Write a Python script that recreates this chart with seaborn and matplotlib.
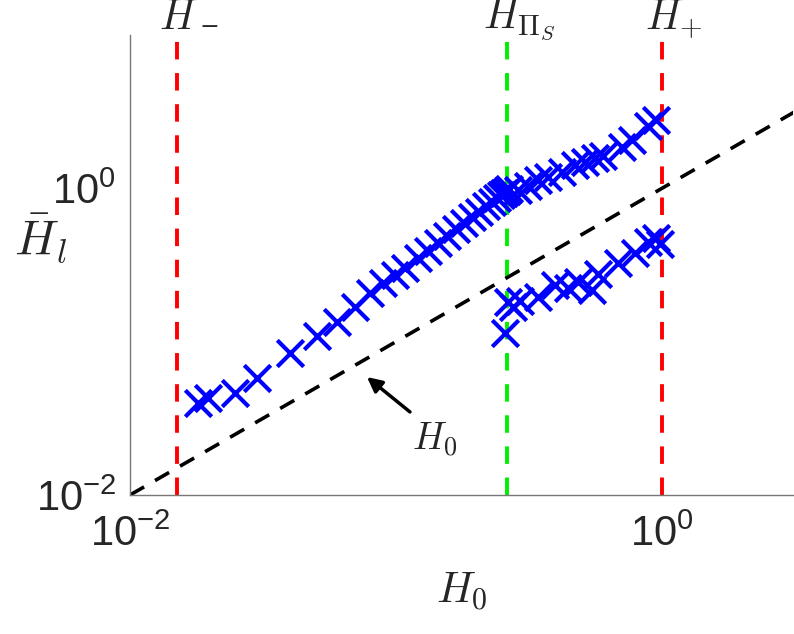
import numpy as np
import pandas as pd
import matplotlib
matplotlib.use("Agg")
import matplotlib.pyplot as plt
import matplotlib.transforms as mtransforms
import seaborn as sns

# ---- data (log-log) ----
upper_x = [0.0180, 0.0196, 0.0248, 0.0300, 0.0399, 0.0505, 0.0600, 0.0702, 0.0798,
           0.0893, 0.0990, 0.108, 0.121, 0.1319, 0.1438, 0.1555, 0.1681, 0.1802,
           0.1931, 0.2051, 0.2180, 0.2296, 0.2398, 0.2482, 0.2547, 0.2614, 0.2660,
           0.2875, 0.3134, 0.3418, 0.3727, 0.4208, 0.4708, 0.5134, 0.5598, 0.6001,
           0.7075, 0.7713, 0.8859, 0.9493]
upper_y = [0.0397, 0.0429, 0.0462, 0.0578, 0.0841, 0.1086, 0.134, 0.168, 0.207,
           0.240, 0.271, 0.301, 0.350, 0.3922, 0.4395, 0.4868, 0.5406, 0.5916,
           0.6474, 0.7022, 0.7634, 0.8130, 0.8607, 0.9004, 0.9333, 0.9647, 0.9851,
           0.9705, 1.030, 1.127, 1.179, 1.271, 1.412, 1.477, 1.568, 1.616,
           1.850, 2.054, 2.534, 2.773]
lower_x = [0.2570, 0.2638, 0.2754, 0.2925, 0.3418, 0.3960, 0.4432, 0.4832, 0.5455,
           0.5746, 0.6835, 0.7913, 0.8859, 0.9493, 0.9828]
lower_y = [0.1136, 0.1808, 0.1678, 0.1836, 0.1950, 0.2334, 0.2231, 0.2441, 0.2165,
           0.2753, 0.3247, 0.3772, 0.4448, 0.4724, 0.4317]

h_minus = 0.01502
h_pis = 0.2614
h_plus = 1.0
diag = [0.01, 3.2]
xlim = (0.01, 3.11)
ylim = (0.01, 10.0)
arrow_tip = (0.0778, 0.0588)
arrow_tail = (0.1129, 0.0348)
h0_text_pos = (0.1403, 0.0228)

sns.set_style("white")
plt.rcParams['font.family'] = ['Liberation Sans', 'DejaVu Sans']
plt.rcParams['mathtext.fontset'] = 'cm'
plt.rcParams['axes.unicode_minus'] = False

fig = plt.figure(figsize=(7.94, 6.34), dpi=100)
ax = fig.add_axes([130/794, 1 - 495/634, 663/794, 460/634])

df = pd.DataFrame({
    "H0": upper_x + lower_x,
    "Hl": upper_y + lower_y,
    "branch": ["upper"] * len(upper_x) + ["lower"] * len(lower_x),
})

# diagonal H = H0
sns.lineplot(x=diag, y=diag, ax=ax, color="black", linewidth=2.6,
             linestyle=(0, (4.5, 3.5)), zorder=2)

for xv, col in [(h_minus, "#ff0000"), (h_pis, "#00ee00"), (h_plus, "#ff0000")]:
    ax.axvline(xv, color=col, linewidth=2.8, linestyle=(0, (4.5, 3.5)), zorder=1)

sns.scatterplot(data=df, x="H0", y="Hl", ax=ax, marker="x", color="#0000ff",
                s=19**2, linewidth=3.0, legend=False, zorder=3)

ax.set_xscale("log")
ax.set_yscale("log")
ax.set_xlim(*xlim)
ax.set_ylim(*ylim)
ax.set_xticks([0.01, 1.0])
ax.set_yticks([0.01, 1.0])
ax.minorticks_off()
ax.tick_params(direction="in", length=6, width=1, color="#555555",
               labelsize=30, labelcolor="#262626")
ax.tick_params(axis="y", pad=10)
ax.tick_params(axis="x", pad=14)

for s in ["top", "right"]:
    ax.spines[s].set_visible(False)
for s in ["left", "bottom"]:
    ax.spines[s].set_color("#777777")
    ax.spines[s].set_linewidth(1.0)

ax.set_xlabel(r"$H_0$", fontsize=31)
ax.set_ylabel(r"$\bar{H}_l$", fontsize=35, rotation=0, va="center", ha="center")
ax.xaxis.set_label_coords(0.5, -0.165)
ax.yaxis.set_label_coords(-0.135, 0.558)

trans = mtransforms.blended_transform_factory(ax.transData, ax.transAxes)
for xv, lab, dx in [(h_minus, r"$H$", -13), (h_pis, r"$H_{\Pi_S}$", -17),
                    (h_plus, r"$H_{+}$", -12)]:
    ax.annotate(lab, xy=(xv, 1.0), xycoords=trans, xytext=(dx, 4.5),
                textcoords="offset points", ha="left", va="baseline",
                fontsize=30, annotation_clip=False)
# subscript minus of H_-
ax.annotate("\u2212", xy=(h_minus, 1.0), xycoords=trans, xytext=(16.5, 5.5),
            textcoords="offset points", ha="left", va="center",
            fontsize=17, family="DejaVu Serif", annotation_clip=False)

ax.annotate("", xy=arrow_tip, xytext=arrow_tail,
            arrowprops=dict(arrowstyle="-|>", color="black", lw=2.5,
                            mutation_scale=22, shrinkA=0, shrinkB=0))
ax.text(h0_text_pos[0], h0_text_pos[1], r"$H_0$", fontsize=27,
        ha="center", va="center")

fig.savefig("out.png", dpi=100)
